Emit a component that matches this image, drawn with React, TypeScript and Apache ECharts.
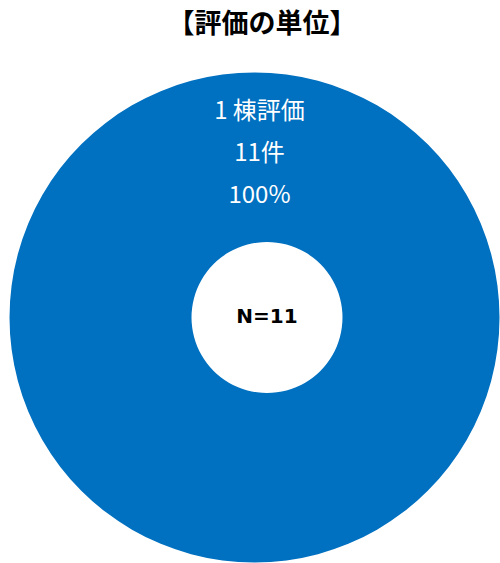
import React, { useEffect, useRef } from "react";
import * as echarts from "echarts";

const titleText = "【評価の単位】";
const categories = ["1 棟評価"];
const counts = [11];
const percents = ["100%"];
const totalLabel = "N=11";

export default function App() {
  const ref = useRef<HTMLDivElement>(null);
  useEffect(() => {
    if (!ref.current) return;
    const chart = echarts.init(ref.current, null, { renderer: "svg" });
    chart.setOption({
      animation: false,
      title: {
        text: titleText,
        left: 257,
        textAlign: "center",
        top: 3,
        textStyle: {
          fontFamily: "Noto Sans CJK JP",
          fontSize: 27,
          fontWeight: "bold",
          color: "#000",
        },
      },
      series: [
        {
          type: "pie",
          center: [254.5, 317.5],
          radius: [0, 245],
          startAngle: 270,
          silent: true,
          itemStyle: { color: "#0070C0" },
          label: {
            show: true,
            position: "inside",
            color: "#fff",
            fontFamily: "Noto Sans CJK JP",
            fontSize: 24,
            lineHeight: 42,
            formatter: (p: any) =>
              `${p.name}\n${p.value}件\n${percents[p.dataIndex]}`,
          },
          labelLayout: () => ({ dx: 5, dy: -42 }),
          labelLine: { show: false },
          data: categories.map((c, i) => ({ name: c, value: counts[i] })),
        },
      ],
      graphic: [
        {
          type: "circle",
          shape: { cx: 267, cy: 317.5, r: 75.5 },
          style: { fill: "#fff" },
          z: 100,
        },
        {
          type: "text",
          x: 267,
          y: 316,
          z: 101,
          style: {
            text: totalLabel,
            fontFamily: "DejaVu Sans",
            fontWeight: "bold",
            fontSize: 20,
            fill: "#000",
            align: "center",
            verticalAlign: "middle",
          },
        },
      ],
    });
    return () => chart.dispose();
  }, []);
  return <div ref={ref} style={{ width: 500, height: 563, position: "absolute", left: 0, top: 0 }} />;
}
